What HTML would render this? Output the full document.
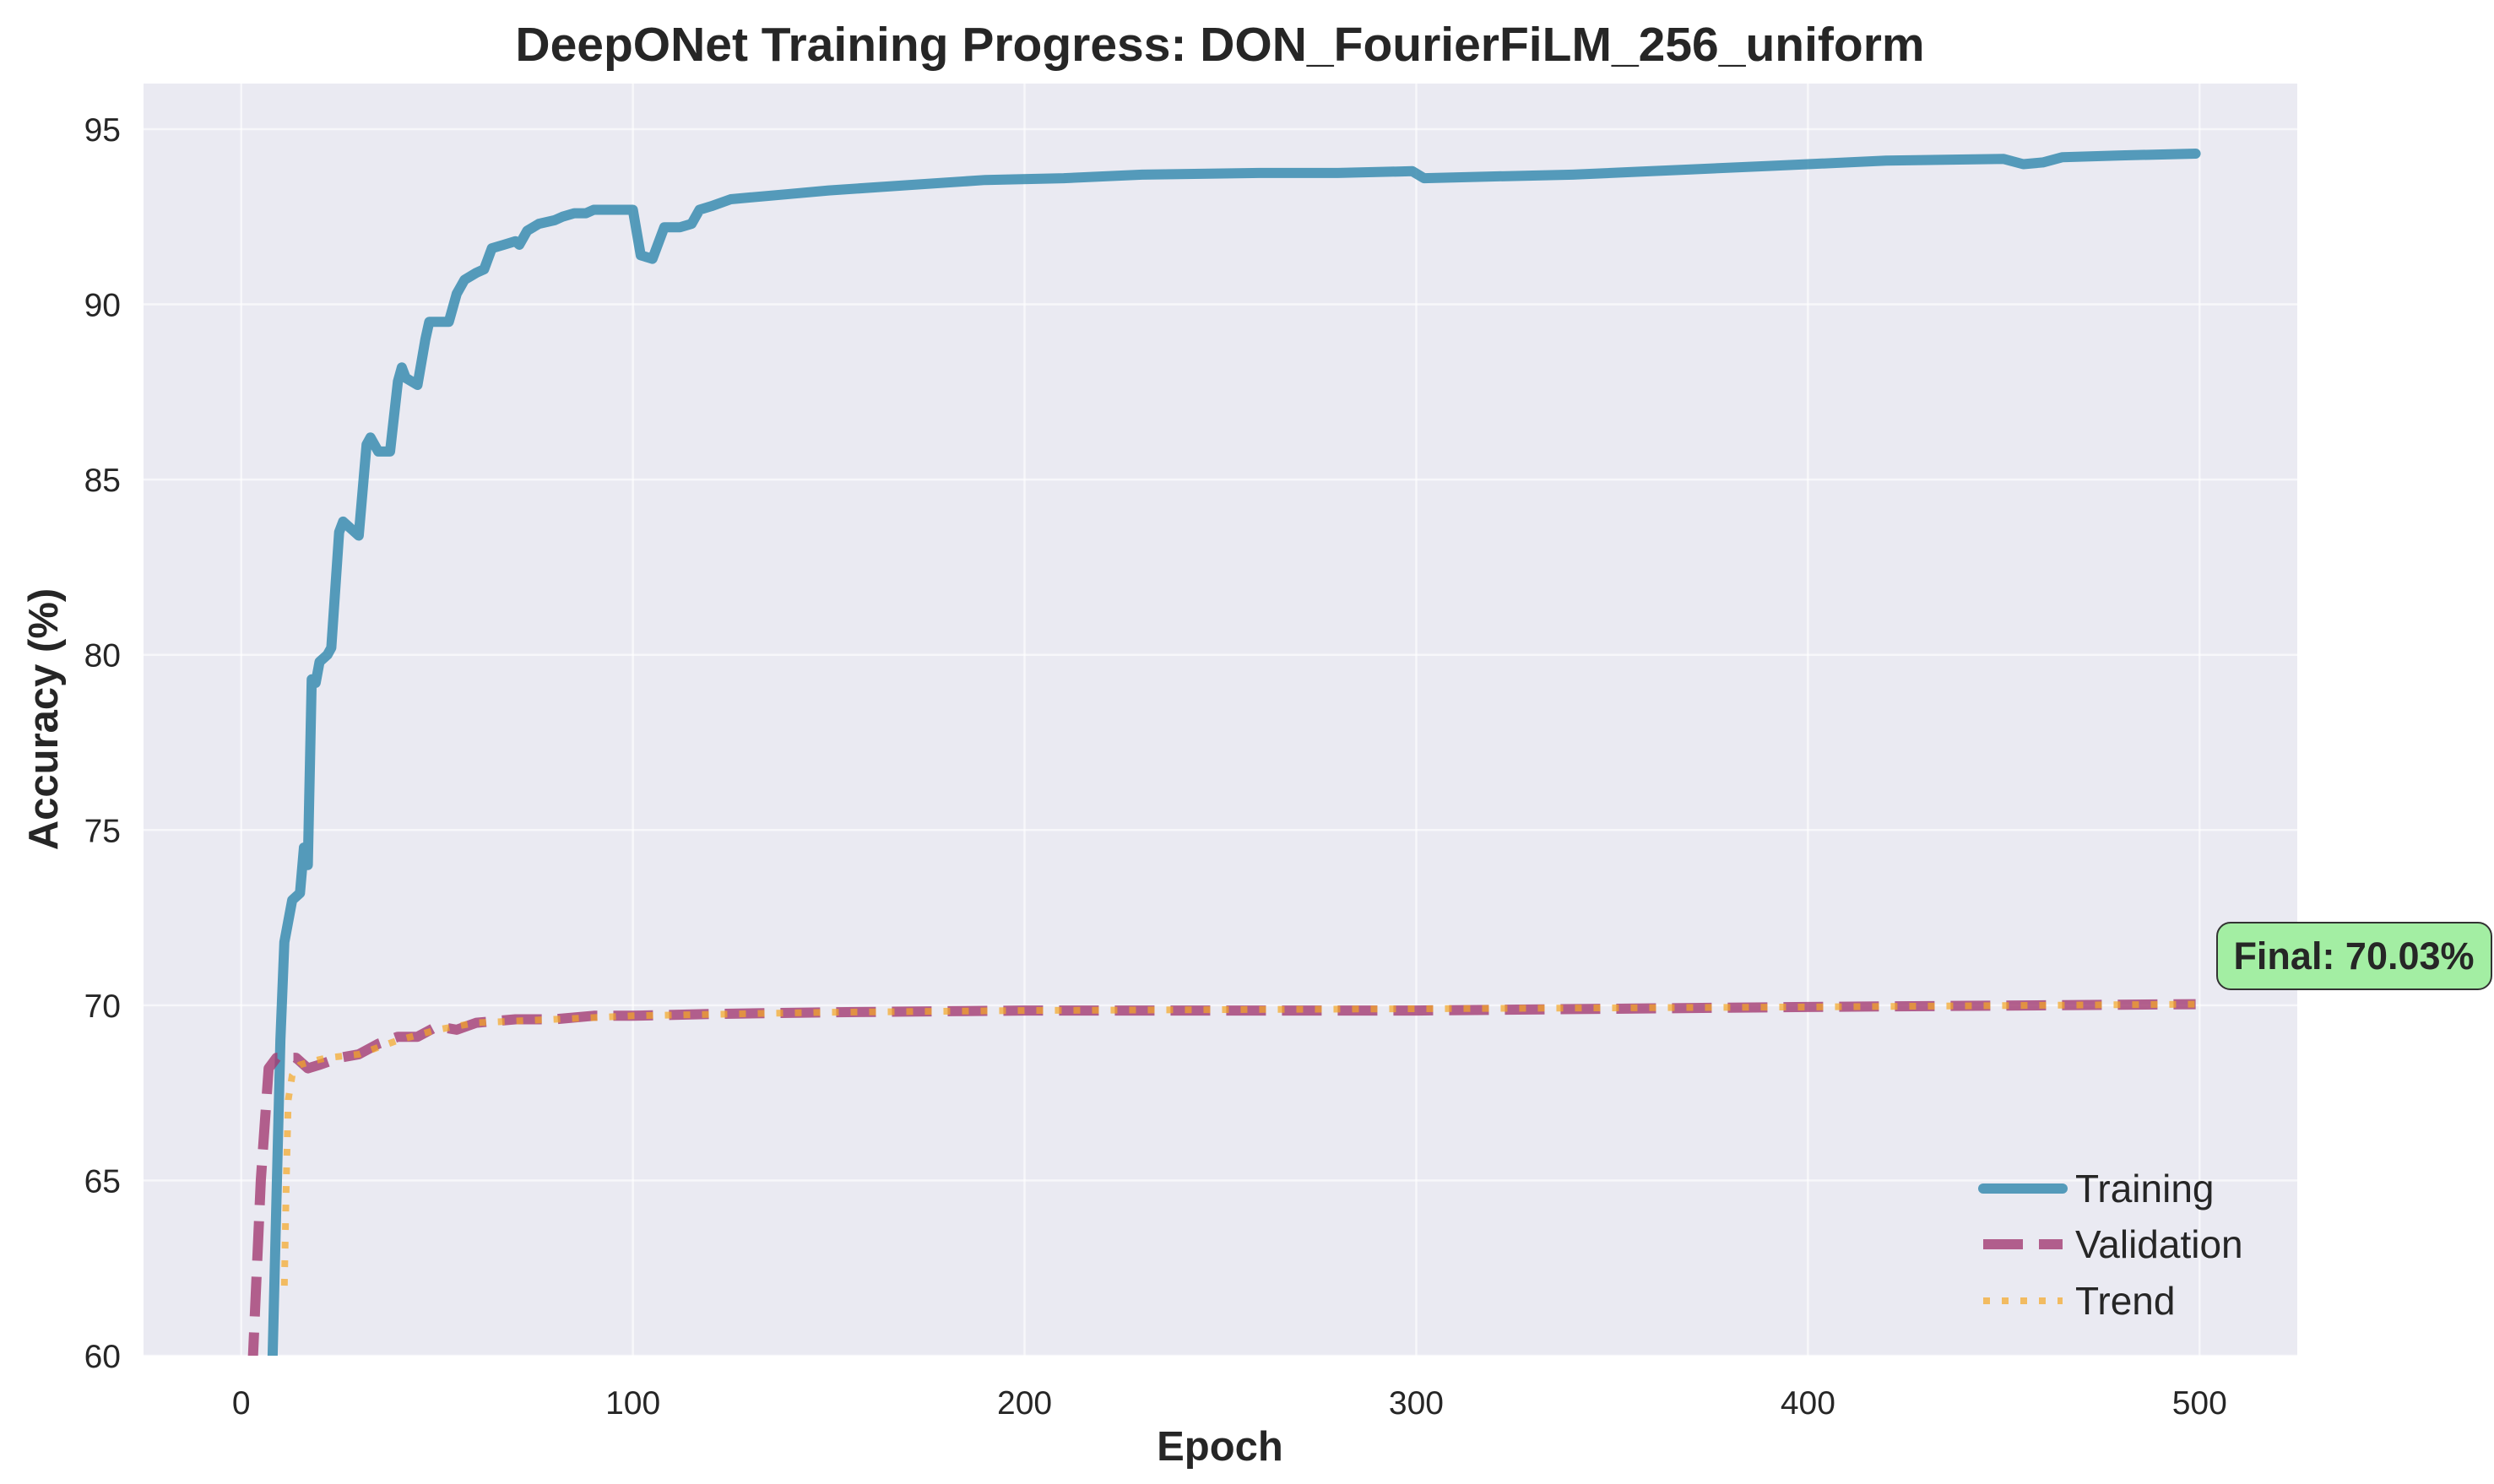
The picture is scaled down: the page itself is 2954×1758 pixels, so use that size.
<!DOCTYPE html>
<html><head><meta charset="utf-8"><style>
html,body{margin:0;padding:0;background:#fff;width:2954px;height:1758px;overflow:hidden}
svg{display:block}
text{font-family:"Liberation Sans",Arial,sans-serif;fill:#262626}
</style></head><body>
<svg id="chart" width="2954" height="1758" viewBox="0 0 2954 1758" xmlns="http://www.w3.org/2000/svg">
<defs><clipPath id="clip"><rect x="170" y="99" width="2551" height="1507"/></clipPath></defs>
<rect x="170" y="99" width="2551" height="1507" fill="#eaeaf2"/>
<g id="grid"></g>
<g id="series" clip-path="url(#clip)"></g>
<g id="ticks"></g>
<text x="1445" y="72" font-size="57" font-weight="bold" text-anchor="middle">DeepONet Training Progress: DON_FourierFiLM_256_uniform</text>
<text x="1445" y="1730" font-size="49" font-weight="bold" text-anchor="middle">Epoch</text>
<text transform="translate(68,852) rotate(-90)" font-size="49" font-weight="bold" text-anchor="middle">Accuracy (%)</text>
<g>
<rect x="2626" y="1093" width="325" height="79" rx="16" fill="#a3eea3" stroke="#333" stroke-width="2"/>
<text x="2788" y="1148" font-size="45" font-weight="bold" text-anchor="middle">Final: 70.03%</text>
</g>
<g>
<g><line x1="2349" y1="1408" x2="2443" y2="1408" stroke="#2E86AB" stroke-opacity="0.8" stroke-width="12" stroke-linecap="round"/><text x="2458" y="1424" font-size="46">Training</text></g>
<g><line x1="2349" y1="1474" x2="2443" y2="1474" stroke="#A23B72" stroke-opacity="0.8" stroke-width="12" stroke-dasharray="47 19"/><text x="2458" y="1490" font-size="46">Validation</text></g>
<g><line x1="2349" y1="1541" x2="2443" y2="1541" stroke="#F5A623" stroke-opacity="0.7" stroke-width="8" stroke-dasharray="8 14"/><text x="2458" y="1557" font-size="46">Trend</text></g>
</g>
</svg>
<script>
const xTicks=[0,100,200,300,400,500];
const yTicks=[60,65,70,75,80,85,90,95];
const trainEpochs=[0,8,10,11,13,15,16,17,18,19,20,22,23,25,26,28,30,32,33,35,38,40,41,42,45,47,48,50,53,55,57,60,62,64,67,70,71,73,76,80,82,85,88,90,95,100,102,105,108,112,115,117,120,125,130,140,150,170,190,210,230,260,280,299,302,320,340,360,370,390,400,420,450,455,460,465,480,499];
const trainAcc=[50,60,69,71.8,73,73.2,74.5,74,79.3,79.2,79.8,80,80.2,83.5,83.8,83.6,83.4,86,86.2,85.8,85.8,87.8,88.2,87.9,87.7,89,89.5,89.5,89.5,90.3,90.7,90.9,91,91.6,91.7,91.8,91.7,92.1,92.3,92.4,92.5,92.6,92.6,92.7,92.7,92.7,91.4,91.3,92.2,92.2,92.3,92.7,92.8,93,93.05,93.15,93.25,93.4,93.55,93.6,93.7,93.75,93.75,93.8,93.6,93.65,93.7,93.8,93.85,93.95,94,94.1,94.15,94.0,94.05,94.2,94.25,94.3];
const valEpochs=[0,3,5,7,9,12,14,17,20,25,30,35,40,45,50,55,60,70,80,90,100,120,150,200,300,350,400,499];
const valAcc=[50,60,65,68.2,68.5,68.5,68.5,68.2,68.3,68.5,68.6,68.9,69.1,69.1,69.4,69.3,69.5,69.6,69.6,69.7,69.7,69.75,69.8,69.85,69.85,69.9,69.95,70.03];
const trendEpochs=[11,11.5,12,13,15,18,22,30,40,50,60,80,100,150,200,300,400,499];
const trendAcc=[62,65,67.3,68,68.3,68.4,68.5,68.6,69,69.3,69.5,69.6,69.7,69.8,69.85,69.9,69.95,70.03];

const X0=170,X1=2721,Y0=1606,Y1=99,xmin=-24.95,xmax=524.95,ymin=60,ymax=96.3;
const sx=v=>X0+(v-xmin)/(xmax-xmin)*(X1-X0);
const sy=v=>Y0-(v-ymin)/(ymax-ymin)*(Y0-Y1);
const NS='http://www.w3.org/2000/svg';
const grid=document.getElementById('grid'),ticks=document.getElementById('ticks'),series=document.getElementById('series');
function mk(tag,attrs,parent){const e=document.createElementNS(NS,tag);for(const k in attrs)e.setAttribute(k,attrs[k]);parent.appendChild(e);return e;}
xTicks.forEach(t=>{
  const l=mk('line',{x1:sx(t),x2:sx(t),y1:Y1,y2:Y0,stroke:'#fff','stroke-width':2.5,'stroke-opacity':0.6},grid);
  
  
  const tx=mk('text',{x:sx(t),y:1675,'font-size':39,'text-anchor':'middle'},ticks);
  
  
  tx.textContent=t;
});
yTicks.forEach(t=>{
  const l=mk('line',{x1:X0,x2:X1,y1:sy(t),y2:sy(t),stroke:'#fff','stroke-width':2.5,'stroke-opacity':0.6},grid);
  
  
  const tx=mk('text',{x:143,y:sy(t)+14,'font-size':39,'text-anchor':'end'},ticks);
  
  
  tx.textContent=t;
});
function path(xs,ys){return xs.map((x,i)=>(i?'L':'M')+sx(x).toFixed(1)+','+sy(ys[i]).toFixed(1)).join(' ');}
const p1=mk('path',{d:path(trainEpochs,trainAcc),fill:'none',stroke:'#2E86AB','stroke-opacity':0.8,'stroke-width':12,'stroke-linejoin':'round','stroke-linecap':'round'},series);


const p2=mk('path',{d:path(valEpochs,valAcc),fill:'none',stroke:'#A23B72','stroke-opacity':0.8,'stroke-width':12,'stroke-dasharray':'47 19','stroke-linejoin':'round'},series);


const p3=mk('path',{d:path(trendEpochs,trendAcc),fill:'none',stroke:'#F5A623','stroke-opacity':0.7,'stroke-width':8,'stroke-dasharray':'8 14'},series);


</script>
</body></html>
